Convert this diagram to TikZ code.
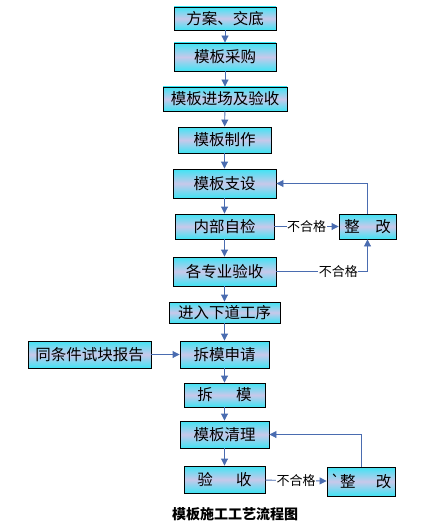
\documentclass[tikz,border=0pt]{standalone}
\usepackage{fontspec}
\newfontfamily\cjk{Noto Sans CJK SC}
\usetikzlibrary{arrows.meta}
\definecolor{cyanb}{HTML}{3FE4F4}
\definecolor{lavb}{HTML}{C8C8EA}
\definecolor{lnc}{HTML}{4A6CB0}
\tikzset{
  box/.style={draw=black, line width=0.9pt, rectangle, inner sep=0pt,
    top color=cyanb, bottom color=cyanb, middle color=lavb,
    font=\cjk\fontsize{15.5}{17}\selectfont, text=black},
  conn/.style={draw=lnc, line width=0.9pt, -{Triangle[length=7pt,width=7pt]}},
  lbl/.style={fill=white, inner sep=0.5pt, font=\cjk\fontsize{13}{14}\selectfont, text=black}
}
\begin{document}
\begin{tikzpicture}[x=1pt,y=-1pt]
\useasboundingbox (0,0) rectangle (420,532);
\node[box, minimum width=102pt, minimum height=23pt] (n1) at (225,18.5) {方案、交底};
\node[box, minimum width=102pt, minimum height=28pt] (n2) at (225,57) {模板采购};
\node[box, minimum width=124pt, minimum height=24pt] (n3) at (225,99) {模板进场及验收};
\node[box, minimum width=93pt, minimum height=26pt] (n4) at (224.5,140) {模板制作};
\node[box, minimum width=103pt, minimum height=29pt] (n5) at (224.5,183.5) {模板支设};
\node[box, minimum width=99pt, minimum height=25pt] (n6) at (224.5,226.5) {内部自检};
\node[box, minimum width=57pt, minimum height=25pt] (r1) at (367.5,226.5) {整\hspace{1em}改};
\node[box, minimum width=103pt, minimum height=29pt] (n7) at (224.5,271.5) {各专业验收};
\node[box, minimum width=111pt, minimum height=21pt] (n8) at (224.5,312.5) {进入下道工序};
\node[box, minimum width=123pt, minimum height=27pt] (s1) at (89.5,354.5) {同条件试块报告};
\node[box, minimum width=89pt, minimum height=27pt] (n9) at (224.5,354.5) {拆模申请};
\node[box, minimum width=81pt, minimum height=24pt] (n10) at (224.5,395) {拆\hspace{1.5em}模};
\node[box, minimum width=81pt, minimum height=27pt] (n12) at (224.5,479.5) {验\hspace{1.5em}收};
\node[box, minimum width=89pt, minimum height=27pt] (n11) at (224.5,434.5) {模板清理};
\node[box, minimum width=68pt, minimum height=29pt] (r2) at (361,481.5) {`整\hspace{1.3em}改};
\node[font=\cjk\bfseries\fontsize{14}{16}\selectfont] (title) at (235,514) {模板施工工艺流程图};

\draw[conn] (n1) -- (n2);
\draw[conn] (n2) -- (n3);
\draw[conn] (n3) -- (n4);
\draw[conn] (n4) -- (n5);
\draw[conn] (n5) -- (n6);
\draw[conn] (n6) -- (n7);
\draw[conn] (n7) -- (n8);
\draw[conn] (n8) -- (n9);
\draw[conn] (n9) -- (n10);
\draw[conn] (n10) -- (n11);
\draw[conn] (n11) -- (n12);
\draw[conn] (s1) -- (n9);
\draw[conn] (n6) -- node[lbl] {不合格} (r1);
\draw[conn] (n7.east) -- node[lbl, pos=0.68] {不合格} (r1.south |- n7.east) -- (r1.south);
\draw[conn] (r1.north) |- (n5.east);
\draw[conn] (n12) -- node[lbl] {不合格} (r2);
\draw[conn] (r2.north) |- (n11.east);
\end{tikzpicture}
\end{document}
